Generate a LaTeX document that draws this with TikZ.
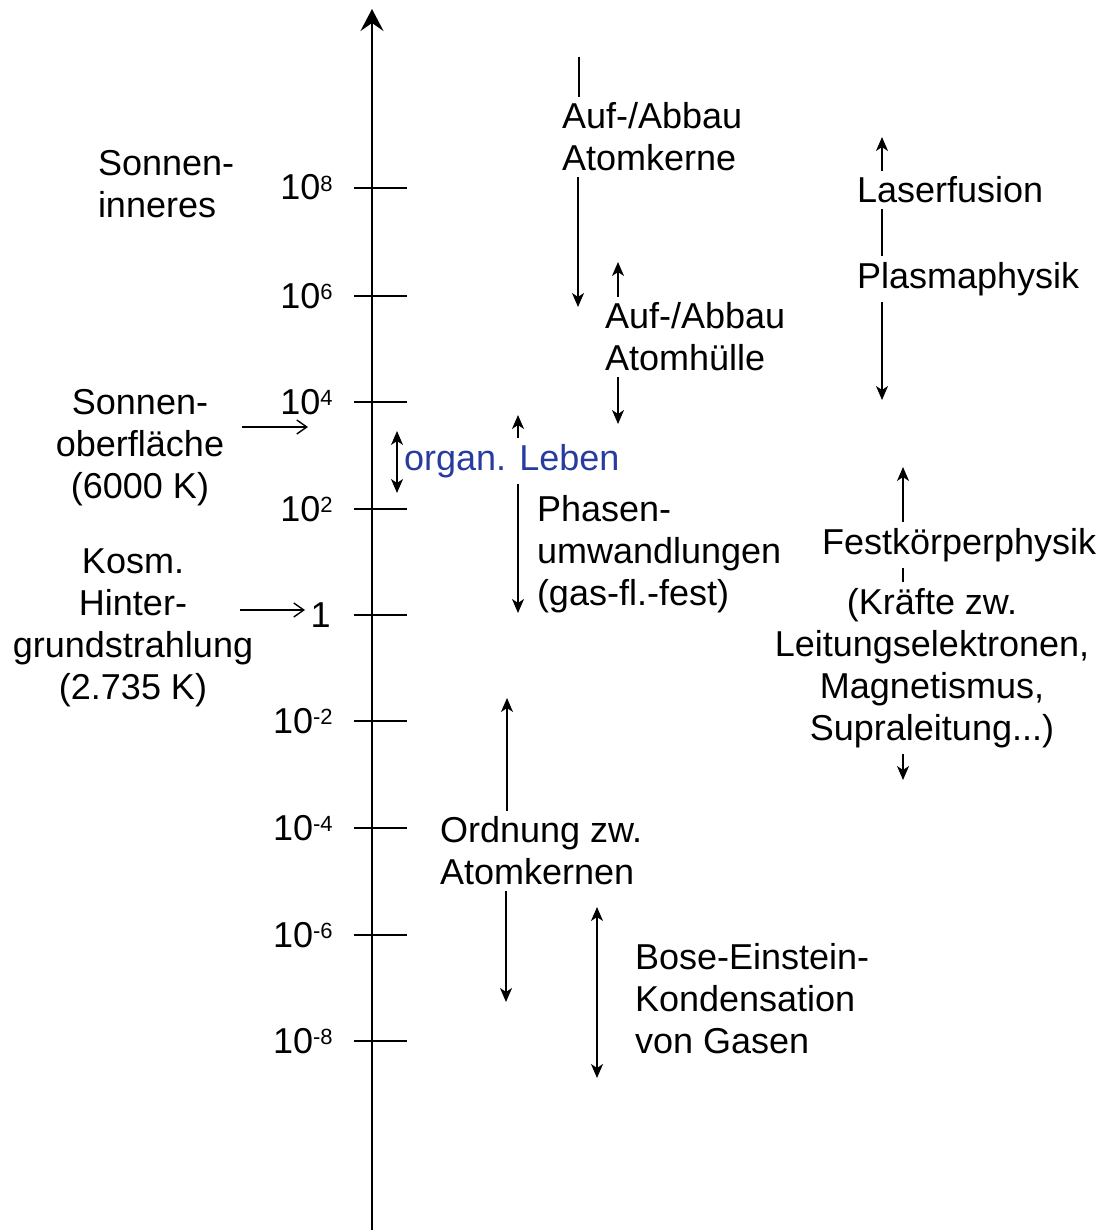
\documentclass[tikz,border=0pt]{standalone}
\usepackage{fontspec}
\setmainfont{Liberation Sans}
\usetikzlibrary{arrows.meta}
\definecolor{lebenblau}{RGB}{40,60,160}
\newcommand{\hoch}[1]{\raisebox{4.5pt}{\fontsize{11}{12}\selectfont#1}}
\tikzset{
	txt/.style={inner sep=0pt,outer xsep=0pt,outer ysep=3pt,align=left,anchor=west,font=\fontsize{18}{21}\selectfont},
	ctxt/.style={inner sep=0pt,outer sep=3pt,align=center,font=\fontsize{18}{21}\selectfont},
	tlbl/.style={inner sep=0pt,anchor=base east,font=\fontsize{18}{21}\selectfont},
	achse/.style={line width=1pt,-{Stealth[length=11pt,width=11.5pt,inset=4pt]}},
	strich/.style={line width=1pt},
	linie/.style={line width=0.7pt},
	pfeil/.style={line width=0.7pt,-{Stealth[length=7pt,width=6pt,inset=2pt]}},
	dpfeil/.style={line width=0.7pt,{Stealth[length=7pt,width=6pt,inset=2pt]}-{Stealth[length=7pt,width=6pt,inset=2pt]}},
	zeiger/.style={line width=0.7pt,-{Straight Barb[length=5pt,width=7pt]}}
}
\begin{document}
\begin{tikzpicture}[x=0.5pt,y=-0.5pt]
	\useasboundingbox (0,0) rectangle (1100,1230);
	\coordinate (a0) at (372,1230);
	\coordinate (a1) at (372,9);
	\draw [achse] (a0) -- (a1);
	\foreach \e/\y in {8/188,6/296,4/402,2/509,-2/721,-4/828,-6/935,-8/1041} {
		\draw [strich] (354,\y) -- (407,\y);
		\node [tlbl] (t\e) at (333,\y+12) {10\hoch{\e}};
	}
	\draw [strich] (354,615) -- (407,615);
	\node [tlbl] (t0) at (331,627) {1};

	\node [txt] (inneres) at (98,184) {Sonnen-\\inneres};
	\node [ctxt] (oberfl) at (140,448) {Sonnen-\\oberfläche\\(6000 K)};
	\coordinate (o1) at (242,427);
	\coordinate (o2) at (308,427);
	\draw [zeiger] (o1) -- (o2);
	\node [ctxt] (kosm) at (133,628) {Kosm.\\Hinter-\\grundstrahlung\\(2.735 K)};
	\coordinate (ko1) at (240,610);
	\coordinate (ko2) at (305,610);
	\draw [zeiger] (ko1) -- (ko2);

	\node [txt] (kerne) at (562,137) {Auf-/Abbau\\Atomkerne};
	\coordinate (k1) at (579,57);
	\coordinate (k2) at (578,307);
	\draw [linie] (k1) -- (kerne.north -| k1);
	\draw [pfeil] (kerne.south -| k2) -- (k2);

	\node [txt] (huelle) at (605,337) {Auf-/Abbau\\Atomhülle};
	\coordinate (h1) at (618,262);
	\coordinate (h2) at (618,424);
	\draw [pfeil] (huelle.north -| h1) -- (h1);
	\draw [pfeil] (huelle.south -| h2) -- (h2);

	\node [txt] (laser) at (857,190) {Laserfusion};
	\node [txt] (plasma) at (857,279) {Plasmaphysik};
	\coordinate (p1) at (882,137);
	\coordinate (p2) at (882,400);
	\draw [pfeil] (laser.north -| p1) -- (p1);
	\draw [linie] (laser.south -| p1) -- (plasma.north -| p1);
	\draw [pfeil] (plasma.south -| p2) -- (p2);

	\node [txt,text=lebenblau] (leben) at (404,461) {organ. Leben};
	\coordinate (l1) at (397,431);
	\coordinate (l2) at (397,493);
	\draw [dpfeil] (l1) -- (l2);

	\node [txt] (phasen) at (537,554) {Phasen-\\umwandlungen\\(gas-fl.-fest)};
	\coordinate (ph1) at (518,415);
	\coordinate (ph2) at (518,613);
	\draw [pfeil] (leben.north -| ph1) -- (ph1);
	\draw [pfeil] (leben.south -| ph2) -- (ph2);

	\node [txt] (festk) at (822,545) {Festkörperphysik};
	\node [ctxt] (kraefte) at (932,668) {(Kräfte zw.\\Leitungselektronen,\\Magnetismus,\\Supraleitung...)};
	\coordinate (f1) at (903,467);
	\coordinate (f2) at (903,780);
	\draw [pfeil] (festk.north -| f1) -- (f1);
	\draw [linie] (festk.south -| f1) -- (kraefte.north -| f1);
	\draw [pfeil] (kraefte.south -| f2) -- (f2);

	\node [txt] (ordnung) at (440,851) {Ordnung zw.\\Atomkernen};
	\coordinate (or1) at (507,698);
	\coordinate (or2) at (506,1002);
	\draw [pfeil] (ordnung.north -| or1) -- (or1);
	\draw [pfeil] (ordnung.south -| or2) -- (or2);

	\node [txt] (bose) at (635,999) {Bose-Einstein-\\Kondensation\\von Gasen};
	\coordinate (b1) at (597,907);
	\coordinate (b2) at (597,1078);
	\draw [dpfeil] (b1) -- (b2);
\end{tikzpicture}
\end{document}
